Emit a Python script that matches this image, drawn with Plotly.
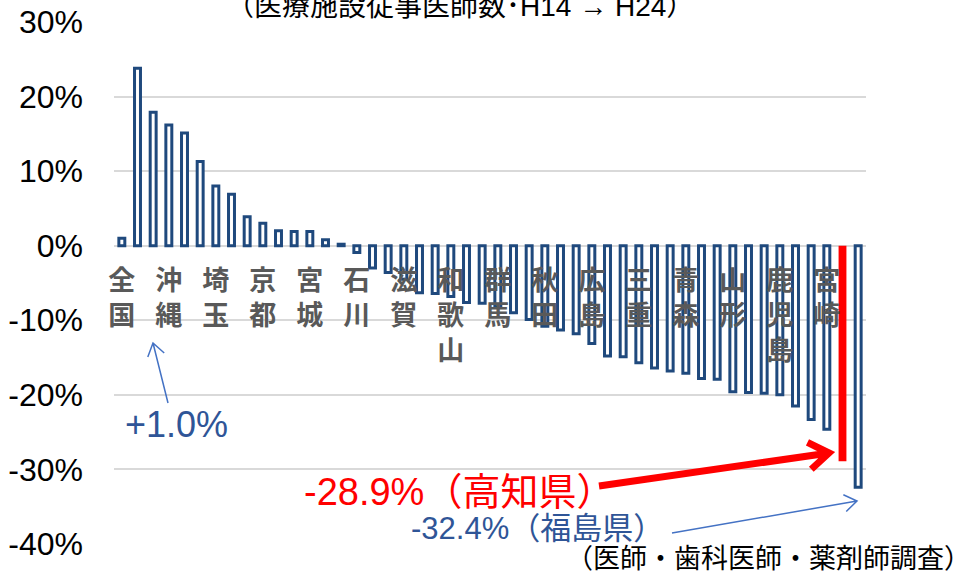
import math
import plotly.graph_objects as go

# 医療施設従事医師数の増減率（H14 → H24）：全国＋47都道府県（降順）
change = [
    0.010, 0.238, 0.179, 0.162, 0.151, 0.113, 0.080, 0.069, 0.039, 0.030,
    0.020, 0.019, 0.019, 0.008, 0.002, -0.009, -0.030, -0.036, -0.045, -0.063,
    -0.064, -0.068, -0.076, -0.077, -0.082, -0.090, -0.099, -0.108, -0.113, -0.118,
    -0.131, -0.148, -0.149, -0.157, -0.164, -0.168, -0.171, -0.178, -0.179, -0.196,
    -0.197, -0.198, -0.200, -0.215, -0.233, -0.246, -0.289, -0.324,
]
bars = list(range(len(change)))

# 3本おきに表示されている県名
label_pos = list(range(0, 48, 3))
label_names = ["全国", "沖縄", "埼玉", "京都", "宮城", "石川", "滋賀", "和歌山",
               "群馬", "秋田", "広島", "三重", "青森", "山形", "鹿児島", "宮崎"]
kochi = 46  # 高知県

y_ticks = [0.3, 0.2, 0.1, 0.0, -0.1, -0.2, -0.3, -0.4]
y_labels = ["30%", "20%", "10%", "0%", "-10%", "-20%", "-30%", "-40%"]

W, H = 973, 576
# プロット領域: x 114..866, y 22..544
ML, MT = 114, 22
MR, MB = W - 866, H - 544
PW, PH = W - ML - MR, H - MT - MB

BLUE = "#1F497D"
JP = "Liberation Sans, Noto Sans CJK JP"


def paper(x, y):
    # ピクセル位置 → paper座標
    return (x - ML) / PW, (H - MB - y) / PH


def arrow(x0, y0, x1, y1, color, width, head):
    dx, dy = x1 - x0, y1 - y0
    n = math.hypot(dx, dy)
    ux, uy = dx / n, dy / n
    arms = []
    for a in (0.6, -0.6):
        rx = ux * math.cos(a) - uy * math.sin(a)
        ry = ux * math.sin(a) + uy * math.cos(a)
        arms.append((x1 - head * rx, y1 - head * ry))

    def p(x, y):
        a, b = paper(x, y)
        return f"{a:.5f},{b:.5f}"

    path = (f"M{p(x0, y0)} L{p(x1, y1)} "
            f"M{p(*arms[0])} L{p(x1, y1)} L{p(*arms[1])}")
    return dict(type="path", xref="paper", yref="paper", path=path,
                line=dict(color=color, width=width), layer="above")


fill = ["#FF0000" if i == kochi else "white" for i in bars]
edge = ["#FF0000" if i == kochi else BLUE for i in bars]
edge_w = [0 if i == kochi else 3 for i in bars]
bar_w = [0.5 if i == kochi else 0.38 for i in bars]

fig = go.Figure(go.Bar(
    x=bars, y=change, width=bar_w,
    marker=dict(color=fill, line=dict(color=edge, width=edge_w)),
    hoverinfo="skip",
))

fig.update_layout(
    width=W, height=H,
    margin=dict(l=ML, r=MR, t=MT, b=MB, autoexpand=False),
    paper_bgcolor="white", plot_bgcolor="white",
    showlegend=False,
    font=dict(family=JP, color="black"),
    xaxis=dict(
        range=[-0.5, 47.5], anchor="free", position=0.4 / 0.7,
        tickvals=label_pos,
        ticktext=["<br>".join(n) for n in label_names],
        tickfont=dict(family="Noto Sans CJK JP", size=27, color="#595959", weight="bold"),
        showgrid=False, showline=False, zeroline=False, ticks="",
        ticklabelstandoff=16,
    ),
    yaxis=dict(
        range=[-0.4, 0.3], tickvals=y_ticks, ticktext=y_labels,
        tickfont=dict(family="Liberation Sans", size=32, color="black"),
        showgrid=True, gridcolor="#D9D9D9", gridwidth=1.5,
        zeroline=False, showline=False, ticks="",
        ticklabelstandoff=30,
    ),
)

notes = [
    ("（医療施設従事医師数･H14 → H24）", 460, 7, "center", 28, "black"),
    ("+1.0%", 176, 424, "center", 36, "#2F5597"),
    ("-28.9%（高知県）", 459, 492, "center", 38, "#FF0000"),
    ("-32.4%（福島県）", 537, 528, "center", 31, "#2F5597"),
    ("（医師・歯科医師・薬剤師調査）", 973, 559, "right", 27, "black"),
]
for text, x, y, xa, size, color in notes:
    xp, yp = paper(x, y)
    fig.add_annotation(text=text, x=xp, y=yp, xref="paper", yref="paper",
                       xanchor=xa, yanchor="middle", showarrow=False,
                       font=dict(family=JP, size=size, color=color))

fig.add_shape(arrow(168, 403, 153, 343, "#4472C4", 1.5, 15))
fig.add_shape(arrow(599, 486, 829, 453, "#FF0000", 7, 24))
fig.add_shape(arrow(672, 533, 857, 501, "#4472C4", 1.5, 15))

# ページ本体の既定余白を外して図を左上に揃える
fig.write_html("out.html", config={"displayModeBar": False},
               post_script="document.body.style.margin='0';")
